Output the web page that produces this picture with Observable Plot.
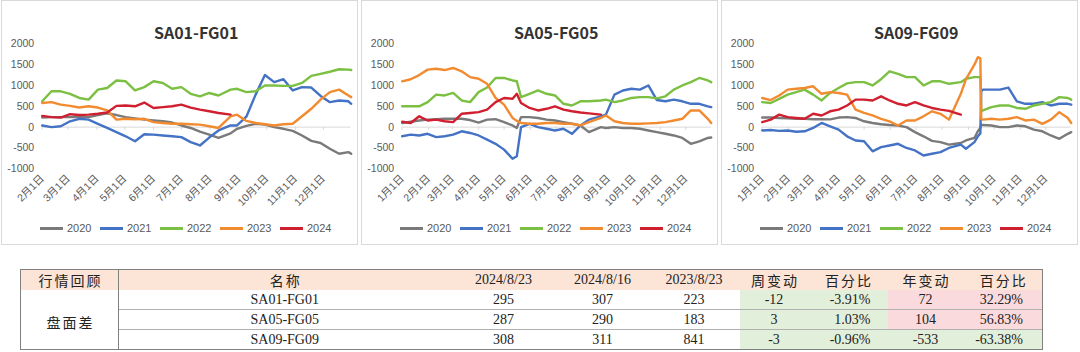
<!DOCTYPE html>
<html><head><meta charset="utf-8">
<script src="https://cdn.jsdelivr.net/npm/d3@7"></script>
<script src="https://cdn.jsdelivr.net/npm/@observablehq/plot@0.6"></script>
<style>
body{margin:0;width:1080px;height:352px;background:#fff;position:relative;overflow:hidden;font-family:"Liberation Sans","Noto Sans CJK SC",sans-serif}
.panel{position:absolute;top:0;height:245px;width:357px;border:1px solid #d9d9d9;box-sizing:border-box;background:#fff}
.chart{position:absolute;top:0}
.title{position:absolute;top:22px;width:309px;text-align:center;font-family:"Noto Sans CJK SC",sans-serif;font-weight:700;font-size:16px;line-height:20px;color:#333}
.legend{position:absolute;top:221px;height:14px}
.li{position:absolute;top:0;height:14px;font-size:11px;line-height:14px;color:#595959}
.sw{position:absolute;top:6px;width:23px;height:3px}
table{position:absolute;left:20px;top:269px;border-collapse:collapse;table-layout:fixed;width:1022px;font-family:"Liberation Serif","Noto Sans CJK SC",serif;font-size:14px;color:#222}
td{padding:0;height:19px;text-align:center;white-space:nowrap;border-top:1px solid #b0b0b0;line-height:18px}
tr.hd td{background:#fce4d6;height:20px;border-top:1px solid #808080}
td.cn{font-family:"Noto Sans CJK SC",sans-serif;letter-spacing:2px;padding-left:2px}
td.first{border-left:1px solid #808080;border-right:1px solid #808080;border-bottom:1px solid #808080}
td.last{border-right:1px solid #808080}
tr.bot td{border-bottom:1px solid #808080}
td.g{background:#e2efda}
td.p{background:#fadadd}
td.r1{text-align:right;padding-right:17px}
td.r2{text-align:right;padding-right:19px}
</style></head><body>
<script>
const years = ["2020","2021","2022","2023","2024"];
const colors = ["#7a7a7a","#4472c4","#7cc043","#f28b30","#d01f2f"];

// SA01-FG01
const dates01 = ["2-1","2-11","2-21","3-3","3-13","3-23","4-2","4-12","4-22","5-2","5-12","5-22","6-1","6-11","6-21","7-1","7-11","7-21","7-31","8-10","8-23","8-30","9-9","9-19","9-29","10-9","10-19","10-29","11-8","11-18","11-28","12-8","12-18","12-28","12-31"];
const sa01_2020 = [230,240,240,240,240,240,290,330,290,240,210,180,160,140,110,40,-20,-110,-180,-260,-150,-40,30,80,60,0,-40,-90,-200,-330,-380,-520,-640,-600,-640];
const sa01_2021 = [40,0,20,140,200,180,80,-20,-120,-220,-340,-170,-180,-200,-220,-240,-360,-440,-250,-80,40,40,250,780,1250,1080,1150,880,960,950,750,600,640,620,560];
const sa01_2022 = [620,860,860,800,700,660,900,940,1120,1100,880,960,1100,1060,920,960,800,740,820,760,900,920,840,860,1000,1000,990,990,1060,1230,1280,1330,1390,1380,1370];
const sa01_2023 = [580,600,540,510,470,500,470,400,180,200,190,200,120,100,80,80,70,60,20,-20,260,300,150,100,70,40,70,80,260,440,660,840,900,760,720];
const sa01_2024 = [270,240,230,310,290,300,320,350,510,520,500,590,460,480,500,540,470,420,380,340,300];

// SA05-FG05
const dates05 = ["1-1","1-11","1-21","1-31","2-10","2-20","3-2","3-12","3-22","4-1","4-11","4-21","5-1","5-11","5-16","5-21","5-31","6-10","6-20","6-30","7-10","7-20","7-30","8-9","8-23","8-29","9-8","9-18","9-28","10-8","10-18","10-28","11-7","11-17","11-27","12-7","12-17","12-27","12-31"];
const sa05_2020 = [100,130,160,180,190,200,200,200,170,110,180,190,120,40,-20,240,240,220,180,160,120,80,40,-120,0,-20,0,-20,-20,-40,-80,-120,-160,-200,-260,-400,-340,-260,-250];
const sa05_2021 = [-220,-180,-200,-160,-240,-220,-180,-100,-140,-200,-300,-400,-540,-760,-700,0,80,0,-40,-80,-40,-160,40,180,260,300,780,880,920,900,1000,650,620,660,620,560,560,500,480];
const sa05_2022 = [500,500,500,600,780,760,820,640,600,840,950,1180,1180,1120,1100,720,800,880,800,760,560,520,620,620,640,660,600,640,700,720,720,690,740,900,1000,1080,1180,1120,1080];
const sa05_2023 = [1100,1150,1250,1380,1400,1370,1420,1340,1200,1160,1040,700,540,220,150,100,80,80,100,100,80,80,40,120,220,280,140,100,80,80,90,100,120,160,200,400,400,200,100];
const sa05_2024 = [130,100,260,160,180,140,120,320,340,360,420,600,700,680,800,580,460,400,440,500,420,380,350,330,300];

// SA09-FG09
const dates09 = ["1-1","1-11","1-21","1-31","2-10","2-20","3-2","3-12","3-22","4-1","4-11","4-21","5-1","5-11","5-21","5-31","6-10","6-20","6-30","7-10","7-20","7-30","8-9","8-23","8-29","9-8","9-12","9-15","9-16","9-18","9-28","10-8","10-18","10-28","11-7","11-17","11-27","12-7","12-17","12-27","12-31"];
const sa09_2020 = [230,230,220,210,200,200,190,190,185,230,240,220,140,100,70,50,40,0,-120,-220,-330,-360,-420,-380,-320,-260,-100,-20,60,50,40,0,0,40,20,-60,-100,-200,-280,-160,-120];
const sa09_2021 = [-80,-70,-90,-80,-110,-100,-20,100,20,-60,-220,-320,-340,-580,-480,-440,-400,-500,-560,-680,-640,-600,-500,-420,-520,-360,-220,-150,860,900,900,900,950,620,560,560,600,520,560,560,540];
const sa09_2022 = [600,580,680,780,840,900,780,640,820,940,1050,1080,1080,1000,1150,1340,1280,1200,1200,1000,1100,1100,1040,1080,1160,1200,1200,1200,380,400,480,520,520,460,440,520,560,600,720,700,660];
const sa09_2023 = [700,650,760,900,920,940,980,800,840,820,780,420,340,280,200,140,40,160,160,260,380,320,180,800,1150,1500,1680,1650,200,180,200,180,200,240,160,180,80,180,360,220,100];
const sa09_2024 = [120,180,300,240,220,200,320,280,380,420,520,660,660,640,740,640,560,520,600,520,460,420,390,300];

const ticks01 = ["2-1","3-1","4-1","5-1","6-1","7-1","8-1","9-1","10-1","11-1","12-1"];
const ticksFull = ["1-1","2-1","3-1","4-1","5-1","6-1","7-1","8-1","9-1","10-1","11-1","12-1"];
const yTicks = [-1000,-500,0,500,1000,1500,2000];

// table
const tblHeader = ["行情回顾","名称","2024/8/23","2024/8/16","2023/8/23","周变动","百分比","年变动","百分比"];
const tblGroup = "盘面差";
const tblNames = ["SA01-FG01","SA05-FG05","SA09-FG09"];
const valCur = [295,287,308];
const valWeek = [307,290,311];
const valYear = [223,183,841];
const chgWeek = [-12,3,-3];
const pctWeek = ["-3.91%","1.03%","-0.96%"];
const chgYear = [72,104,-533];
const pctYear = ["32.29%","56.83%","-63.38%"];

const pd = s => { const [m, d] = s.split("-").map(Number); return new Date(Date.UTC(2001, m - 1, d)); };

function makeChart(i, title, dates, series, domain, ticks) {
  const data = [];
  series.forEach((vals, k) => vals.forEach((v, j) => { if (v != null) data.push({date: pd(dates[j]), value: v, year: years[k]}); }));
  const tk = ticks.map(pd);
  const svg = Plot.plot({
    width: 360, height: 215,
    marginLeft: 41.7, marginRight: 9.3, marginTop: 43.3, marginBottom: 46.7,
    style: {background: "transparent", fontFamily: '"Liberation Sans","Noto Sans CJK SC",sans-serif', fontSize: "10.5px", color: "#595959"},
    x: {type: "utc", domain: domain.map(pd), ticks: tk, tickFormat: d => `${d.getUTCMonth() + 1}月${d.getUTCDate()}日`, tickRotate: -45, tickSize: 0, tickPadding: 8, label: null},
    y: {domain: [-1000, 2000], ticks: yTicks, tickFormat: d => String(d), tickSize: 0, tickPadding: 8, label: null},
    color: {domain: years, range: colors},
    marks: [
      Plot.ruleY([0], {stroke: "#d9d9d9", strokeWidth: 1}),
      Plot.ruleX(tk, {x: d => d, y1: 0, y2: -75, stroke: "#d9d9d9"}),
      Plot.line(data, {x: "date", y: "value", z: "year", stroke: "year", strokeWidth: 2.4, strokeLinejoin: "round"})
    ]
  });
  const panel = document.createElement("div");
  panel.className = "panel"; panel.style.left = (360 * i + 1) + "px";
  document.body.appendChild(panel);
  const wrap = document.createElement("div");
  wrap.className = "chart"; wrap.style.left = (360 * i) + "px";
  wrap.appendChild(svg);
  document.body.appendChild(wrap);
  const t = document.createElement("div");
  t.className = "title"; t.style.left = (360 * i + 41.7) + "px"; t.textContent = title;
  document.body.appendChild(t);
  const lg = document.createElement("div");
  lg.className = "legend"; lg.style.left = (360 * i + 40) + "px";
  years.forEach((y, k) => {
    const sw = document.createElement("div"); sw.className = "sw";
    sw.style.left = (60 * k) + "px"; sw.style.background = colors[k];
    const tx = document.createElement("div"); tx.className = "li";
    tx.style.left = (60 * k + 27) + "px"; tx.textContent = y;
    lg.appendChild(sw); lg.appendChild(tx);
  });
  document.body.appendChild(lg);
}

makeChart(0, "SA01-FG01", dates01, [sa01_2020, sa01_2021, sa01_2022, sa01_2023, sa01_2024], ["2-1", "12-31"], ticks01);
makeChart(1, "SA05-FG05", dates05, [sa05_2020, sa05_2021, sa05_2022, sa05_2023, sa05_2024], ["1-1", "12-31"], ticksFull);
makeChart(2, "SA09-FG09", dates09, [sa09_2020, sa09_2021, sa09_2022, sa09_2023, sa09_2024], ["1-1", "12-31"], ticksFull);

// table
const widths = [98, 332, 106, 92, 91, 69, 79, 76, 79];
const tbl = document.createElement("table");
const cg = document.createElement("colgroup");
widths.forEach(w => { const c = document.createElement("col"); c.style.width = w + "px"; cg.appendChild(c); });
tbl.appendChild(cg);
const hr = document.createElement("tr"); hr.className = "hd";
tblHeader.forEach((h, k) => {
  const td = document.createElement("td"); td.textContent = h;
  if (/[\u4e00-\u9fff]/.test(h)) td.classList.add("cn");
  if (k === 0) td.style.borderLeft = "1px solid #808080";
  if (k === 0) td.style.borderRight = "1px solid #808080";
  if (k === tblHeader.length - 1) td.classList.add("last");
  hr.appendChild(td);
});
tbl.appendChild(hr);
tblNames.forEach((n, r) => {
  const tr = document.createElement("tr");
  if (r === tblNames.length - 1) tr.className = "bot";
  if (r === 0) {
    const td = document.createElement("td"); td.rowSpan = tblNames.length; td.textContent = tblGroup;
    td.className = "cn first"; td.style.borderTop = "none"; td.style.paddingTop = "4px";
    tr.appendChild(td);
  }
  const cells = [
    [n, ""], [valCur[r], ""], [valWeek[r], ""], [valYear[r], ""],
    [chgWeek[r], "g"], [pctWeek[r], "g r1"],
    [chgYear[r], chgYear[r] > 0 ? "p" : "g"], [pctYear[r], (chgYear[r] > 0 ? "p" : "g") + " r2 last"]
  ];
  cells.forEach(([v, cls]) => {
    const td = document.createElement("td"); td.textContent = v;
    if (cls) td.className = cls;
    if (r === 0) td.style.borderTop = "none";
    tr.appendChild(td);
  });
  tbl.appendChild(tr);
});
document.body.appendChild(tbl);
</script>
</body></html>
